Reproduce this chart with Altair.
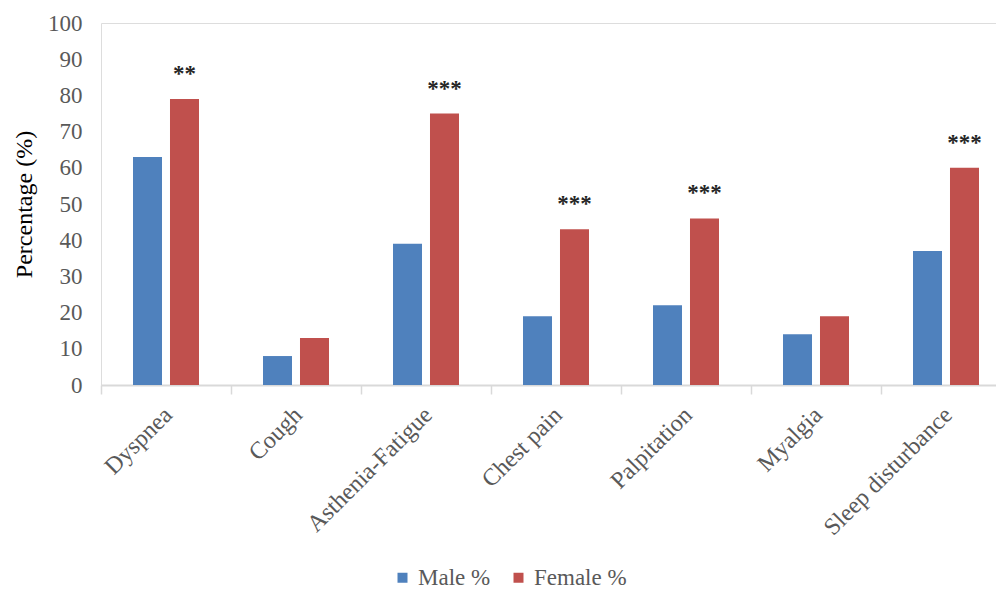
import altair as alt
import pandas as pd

# Symptom prevalence by sex
categories = ["Dyspnea", "Cough", "Asthenia-Fatigue", "Chest pain",
              "Palpitation", "Myalgia", "Sleep disturbance"]
male_pct = [63, 8, 39, 19, 22, 14, 37]
female_pct = [79, 13, 75, 43, 46, 19, 60]
significance = ["**", "", "***", "***", "***", "", "***"]
series = ["Male %", "Female %"]
colors = ["#4F81BD", "#C0504D"]
y_ticks = list(range(0, 101, 10))

rows = []
for c, m, f in zip(categories, male_pct, female_pct):
    rows.append({"symptom": c, "sex": series[0], "pct": m})
    rows.append({"symptom": c, "sex": series[1], "pct": f})
bars_df = pd.DataFrame(rows)

sig_df = pd.DataFrame({
    "symptom": categories,
    "sex": [series[1]] * len(categories),
    "pct": female_pct,
    "sig": significance,
})
sig_df = sig_df[sig_df["sig"] != ""]

FONT = "Liberation Serif"

x_axis = alt.Axis(
    title=None,
    labelAngle=-45,
    labelAlign="right",
    labelBaseline="middle",
    labelOffset=2,
    labelPadding=17,
    labelFont=FONT,
    labelFontSize=24,
    labelColor="#595959",
    tickBand="extent",
    tickSize=9,
    tickColor="#D9D9D9",
    tickWidth=1.5,
    domainColor="#D9D9D9",
    domainWidth=2,
    grid=False,
    labelOverlap=False,
)
x_scale = alt.Scale(domain=categories, paddingInner=0, paddingOuter=0, range=[0, 910])

y_axis = alt.Axis(
    title="Percentage (%)",
    values=y_ticks,
    tickCount=11,
    titleFont=FONT,
    titleFontSize=24,
    titleFontWeight="normal",
    titleColor="#000000",
    titleAngle=-90,
    titleAlign="center",
    titleBaseline="middle",
    titleX=-77,
    titleY=181,
    labelFont=FONT,
    labelFontSize=23,
    labelColor="#595959",
    labelPadding=19,
    labelOverlap=False,
    ticks=False,
    domain=False,
    grid=False,
)
y_scale = alt.Scale(domain=[0, 100], nice=False)

xoff_scale = alt.Scale(domain=series, paddingInner=0.216, paddingOuter=0.865)

bars = alt.Chart(bars_df).mark_bar().encode(
    x=alt.X("symptom:N", sort=categories, scale=x_scale, axis=x_axis),
    xOffset=alt.XOffset("sex:N", sort=series, scale=xoff_scale),
    y=alt.Y("pct:Q", scale=y_scale, axis=y_axis),
    color=alt.Color(
        "sex:N",
        sort=series,
        scale=alt.Scale(domain=series, range=colors),
        legend=alt.Legend(
            title=None,
            orient="none",
            direction="horizontal",
            legendX=290,
            legendY=543,
            symbolType="square",
            symbolSize=100,
            symbolStrokeWidth=0,
            labelFont="Times New Roman",
            labelFontSize=23,
            labelColor="#595959",
            labelOffset=4,
            columnPadding=16,
        ),
    ),
)

stars = alt.Chart(sig_df).mark_text(
    font=FONT,
    fontSize=23,
    fontWeight="bold",
    color="#262626",
    baseline="alphabetic",
    dy=-18,
).encode(
    x=alt.X("symptom:N", sort=categories, scale=x_scale, axis=x_axis),
    xOffset=alt.XOffset("sex:N", sort=series, scale=xoff_scale),
    y=alt.Y("pct:Q", scale=y_scale, axis=y_axis),
    text="sig:N",
)

chart = (
    alt.layer(bars, stars)
    .properties(width=895, height=362,
                padding={"left": 101, "top": 23, "right": 0, "bottom": 207},
                autosize=alt.AutoSizeParams(type="none"))
    .configure_view(strokeWidth=0, stroke="transparent")
    .configure_legend(labelFont="Times New Roman", labelFontSize=23, labelColor="#595959")
    .configure(background="white", font=FONT)
)

chart.save("out.html", embed_options={"renderer": "svg", "actions": False})
